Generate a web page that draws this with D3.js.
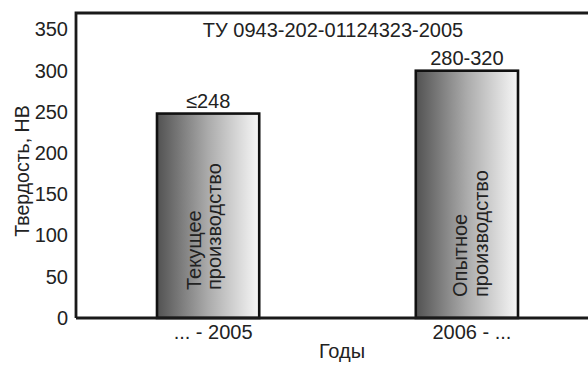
<!DOCTYPE html>
<html>
<head>
<meta charset="utf-8">
<script src="https://cdn.jsdelivr.net/npm/d3@7/dist/d3.min.js"></script>
<style>
  html, body { margin: 0; padding: 0; background: #fff; }
  svg { display: block; }
  text { font-family: "Liberation Sans", Arial, sans-serif; fill: #222; }
</style>
</head>
<body>
<svg id="chart" width="588" height="365"></svg>
<script>
// Hardness by production period
const categories = ["... - 2005", "2006 - ..."];
const rangeLow   = [null, 280];
const rangeHigh  = [248, 320];
const barLabels  = ["≤248", "280-320"];
const captions   = [["Текущее", "производство"], ["Опытное", "производство"]];
const yTicks     = [0, 50, 100, 150, 200, 250, 300, 350];
const titleText  = "ТУ 0943-202-01124323-2005";
const yTitle     = "Твердость, НВ";
const xTitle     = "Годы";

// bar height: upper limit, or the middle of a stated range
const barValues = rangeHigh.map((h, i) => rangeLow[i] == null ? h : (rangeLow[i] + h) / 2);

const svg = d3.select("#chart");
const plotLeft = 76, plotTop = 13, plotBottom = 318, plotRight = 599;
const fontSize = "20px";

const x = d3.scaleBand().domain(categories).range([plotLeft, plotRight])
  .paddingInner(0.605).paddingOuter(0.313);
const y = d3.scaleLinear().domain([0, 370]).range([plotBottom, plotTop]);

const defs = svg.append("defs");
const grad = defs.append("linearGradient").attr("id", "barFill")
  .attr("x1", "0%").attr("x2", "100%").attr("y1", "0%").attr("y2", "0%");
grad.append("stop").attr("offset", "0%").attr("stop-color", "#525252");
grad.append("stop").attr("offset", "50%").attr("stop-color", "#ababab");
grad.append("stop").attr("offset", "100%").attr("stop-color", "#f7f7f7");

// y axis labels
const yAxis = svg.append("g").attr("transform", `translate(${plotLeft - 8},0)`)
  .call(d3.axisLeft(y).tickValues(yTicks).tickSize(0).tickPadding(0));
yAxis.select(".domain").remove();
yAxis.selectAll("text").style("font-size", fontSize).style("font-family", "Liberation Sans, Arial, sans-serif").attr("fill", "#222");

// x axis labels
const xAxis = svg.append("g").attr("transform", `translate(5,${plotBottom + 7})`)
  .call(d3.axisBottom(x).tickSize(0).tickPadding(0));
xAxis.select(".domain").remove();
xAxis.selectAll("text").style("font-size", fontSize).style("font-family", "Liberation Sans, Arial, sans-serif").attr("fill", "#222");

// bars
const bars = svg.append("g");
bars.selectAll("rect").data(categories).join("rect")
  .attr("x", d => x(d))
  .attr("y", (d, i) => y(barValues[i]))
  .attr("width", x.bandwidth())
  .attr("height", (d, i) => y(0) - y(barValues[i]))
  .attr("fill", "url(#barFill)")
  .attr("stroke", "#111")
  .attr("stroke-width", 2.6);

// value labels above the bars
svg.append("g").selectAll("text").data(categories).join("text")
  .attr("x", d => x(d) + x.bandwidth() / 2)
  .attr("y", (d, i) => y(barValues[i]) - 6)
  .attr("text-anchor", "middle")
  .style("font-size", fontSize)
  .text((d, i) => barLabels[i]);

// rotated captions inside the bars
const captionShift = [[-7, 13], [0, 21]];
const captionStart = [290, 297];
categories.forEach((c, i) => {
  const cx = x(c) + x.bandwidth() / 2;
  captions[i].forEach((line, j) => {
    const tx = cx + captionShift[i][j];
    svg.append("text")
      .attr("transform", `translate(${tx},${captionStart[i]}) rotate(-90)`)
      .style("font-size", fontSize)
      .text(line);
  });
});

// frame: left, top and baseline
const frame = svg.append("g").attr("stroke", "#1a1a1a").attr("stroke-width", 2.8).attr("fill", "none");
frame.append("path").attr("d", `M${plotLeft},${plotBottom} L${plotLeft},${plotTop} L${plotRight + 10},${plotTop}`);
frame.append("line").attr("x1", plotLeft).attr("x2", plotRight + 10).attr("y1", plotBottom).attr("y2", plotBottom);

// titles
svg.append("text").attr("x", 333).attr("y", 37).attr("text-anchor", "middle")
  .style("font-size", fontSize).text(titleText);
svg.append("text").attr("transform", `translate(29,171) rotate(-90)`).attr("text-anchor", "middle")
  .style("font-size", "19.5px").text(yTitle);
svg.append("text").attr("x", 342).attr("y", 358).attr("text-anchor", "middle")
  .style("font-size", fontSize).text(xTitle);
</script>
</body>
</html>
